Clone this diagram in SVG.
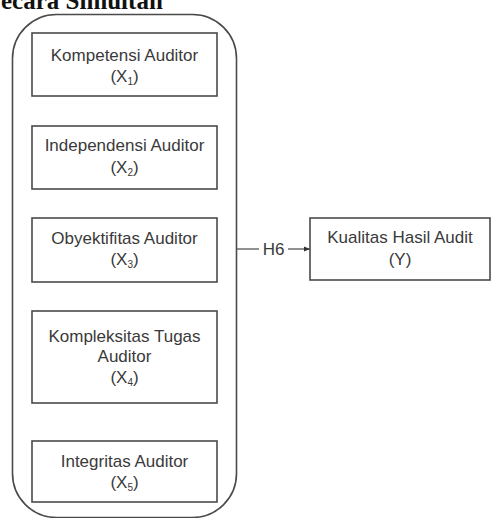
<svg xmlns="http://www.w3.org/2000/svg" width="492" height="518" viewBox="0 0 492 518">
<defs>
<style>
.box{fill:#fff;stroke:#4a4a4a;stroke-width:1.6}
.lbl{font-family:"Liberation Sans",Arial,sans-serif;font-size:17px;fill:#3a3a3a;text-anchor:middle}
.sub{font-size:10px}
.ln{stroke:#555;stroke-width:1.3;fill:none}
</style>
<marker id="arr" viewBox="0 0 10 10" refX="10" refY="5" markerWidth="6" markerHeight="6" orient="auto" markerUnits="userSpaceOnUse">
<path d="M0,1 L10,5 L0,9 z" fill="#333"/>
</marker>
</defs>
<rect width="492" height="518" fill="#fff"/>
<text x="1" y="9" font-family="'Liberation Serif','Times New Roman',serif" font-size="25" font-weight="bold" fill="#111">ecara Simultan</text>
<g id="group">
<rect x="12.5" y="14.5" width="224" height="503" rx="44" ry="44" class="box" fill="none"/>
</g>
<g id="x1">
<rect x="32" y="33" width="185" height="63" class="box"/>
<text class="lbl" x="124.5" y="61">Kompetensi Auditor</text>
<text class="lbl" x="124.5" y="82">(X<tspan class="sub" dy="3">1</tspan><tspan dy="-3">)</tspan></text>
</g>
<g id="x2">
<rect x="32" y="126" width="185" height="63" class="box"/>
<text class="lbl" x="124.5" y="151">Independensi Auditor</text>
<text class="lbl" x="124.5" y="173">(X<tspan class="sub" dy="3">2</tspan><tspan dy="-3">)</tspan></text>
</g>
<g id="x3">
<rect x="32" y="218" width="185" height="64" class="box"/>
<text class="lbl" x="124.5" y="244">Obyektifitas Auditor</text>
<text class="lbl" x="124.5" y="265">(X<tspan class="sub" dy="3">3</tspan><tspan dy="-3">)</tspan></text>
</g>
<g id="x4">
<rect x="32" y="311" width="185" height="92" class="box"/>
<text class="lbl" x="124.5" y="342">Kompleksitas Tugas</text>
<text class="lbl" x="124.5" y="362">Auditor</text>
<text class="lbl" x="124.5" y="383">(X<tspan class="sub" dy="3">4</tspan><tspan dy="-3">)</tspan></text>
</g>
<g id="x5">
<rect x="32" y="441" width="185" height="61" class="box"/>
<text class="lbl" x="124.5" y="467">Integritas Auditor</text>
<text class="lbl" x="124.5" y="488">(X<tspan class="sub" dy="3">5</tspan><tspan dy="-3">)</tspan></text>
</g>
<g id="y">
<rect x="310" y="218" width="180" height="62" class="box"/>
<text class="lbl" x="400" y="243">Kualitas Hasil Audit</text>
<text class="lbl" x="400" y="265">(Y)</text>
</g>
<g id="connectors">
<line class="ln" x1="237" y1="249" x2="259" y2="249"/>
<line class="ln" x1="288" y1="249" x2="310" y2="249" marker-end="url(#arr)"/>
<text class="lbl" x="273.5" y="255">H6</text>
</g>
</svg>
